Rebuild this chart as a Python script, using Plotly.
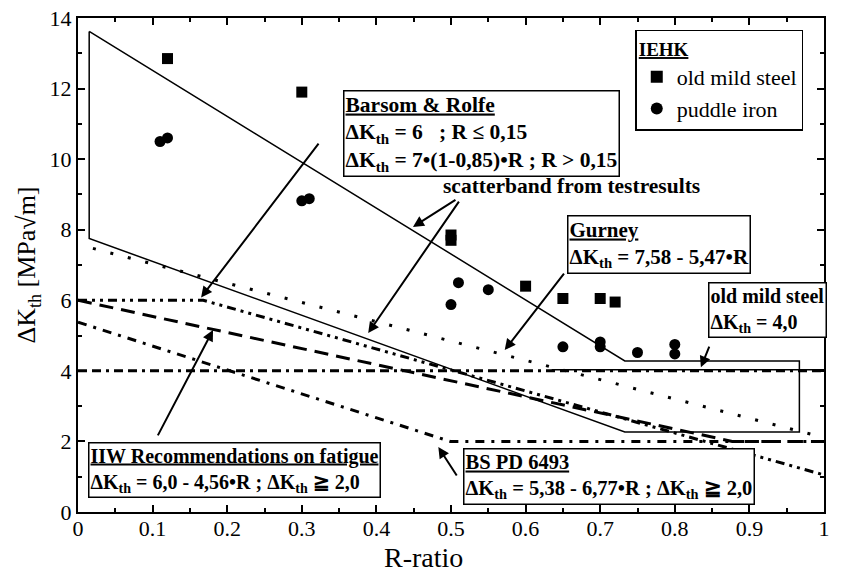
import plotly.graph_objects as go

# IEHK test results
steel_R = [0.12, 0.30, 0.50, 0.50, 0.60, 0.65, 0.70, 0.72]
steel_dK = [12.85, 11.9, 7.85, 7.7, 6.4, 6.05, 6.05, 5.95]
iron_R = [0.11, 0.12, 0.30, 0.31, 0.50, 0.51, 0.55, 0.65, 0.70, 0.70, 0.75, 0.80, 0.80]
iron_dK = [10.5, 10.6, 8.82, 8.88, 5.88, 6.5, 6.3, 4.68, 4.68, 4.82, 4.52, 4.48, 4.75]

# scatterband from test results (closed outline)
band_R = [0.015, 0.733, 0.967, 0.967, 0.733, 0.015, 0.015]
band_dK = [13.62, 4.28, 4.28, 2.27, 2.27, 7.75, 13.62]

# threshold curves (breakpoints)
gurney_R = [0.02, 1.0]
gurney_dK = [7.47, 2.11]
barsom_R = [0.0, 0.168, 1.0]
barsom_dK = [6.0, 6.0, 1.05]
iiw_R = [0.0, 0.877, 1.0]
iiw_dK = [6.0, 2.0, 2.0]
bspd_R = [0.0, 0.499, 1.0]
bspd_dK = [5.38, 2.0, 2.0]
oms_R = [0.0, 1.0]
oms_dK = [4.0, 4.0]
oms_solid_R = [0.635, 1.0]
oms_solid_dK = [4.03, 4.03]

x_ticks = [0, 0.1, 0.2, 0.3, 0.4, 0.5, 0.6, 0.7, 0.8, 0.9, 1]
x_ticklabels = ["0", "0.1", "0.2", "0.3", "0.4", "0.5", "0.6", "0.7", "0.8", "0.9", "1"]
y_ticks = [0, 2, 4, 6, 8, 10, 12, 14]

SERIF = "Liberation Serif"

fig = go.Figure()

def line(xs, ys, dash, width=3):
    fig.add_trace(go.Scatter(x=xs, y=ys, mode="lines", showlegend=False,
                             hoverinfo="skip",
                             line=dict(color="black", width=width, dash=dash)))

line(band_R, band_dK, "solid", 1.5)
line(gurney_R, gurney_dK, "3px,15px", 3)
line(barsom_R, barsom_dK, "9px,5px,3px,5px,3px,5px", 3)
line(iiw_R, iiw_dK, "14px,8px", 3)
line(bspd_R, bspd_dK, "9px,7px,3px,7px", 3)
line(oms_R, oms_dK, "9px,5px,9px,5px,3px,5px", 3)
line(oms_solid_R, oms_solid_dK, "solid", 1.5)

fig.add_trace(go.Scatter(x=steel_R, y=steel_dK, mode="markers", name="old mild steel",
                         marker=dict(symbol="square", size=11, color="black")))
fig.add_trace(go.Scatter(x=iron_R, y=iron_dK, mode="markers", name="puddle iron",
                         marker=dict(symbol="circle", size=11, color="black")))

DK = "ΔK<sub>th</sub>"


def box(x, y, text, size):
    fig.add_annotation(x=x, y=y, text=text, showarrow=False, xref="x", yref="y",
                       xanchor="left", yanchor="top", align="left",
                       bordercolor="black", borderwidth=1.5, borderpad=1,
                       bgcolor="white", font=dict(family=SERIF, size=size, color="black"))


box(0.355, 11.96,
    f"<b><u>Barsom &amp; Rolfe</u><br>{DK} = 6   ; R ≤ 0,15<br>"
    f"{DK} = 7•(1-0,85)•R ; R > 0,15</b>", 21.5)
box(0.655, 8.41, f"<b><u>Gurney</u><br>{DK} = 7,58 - 5,47•R</b>", 21)
box(0.845, 6.52, f"<b>old mild steel<br>{DK} = 4,0</b>", 20)
box(0.013, 1.98,
    f"<b><u>IIW Recommendations on fatigue</u><br>"
    f"{DK} = 6,0 - 4,56•R ; {DK} ≧ 2,0</b>", 20)
box(0.516, 1.81,
    f"<b><u>BS PD 6493</u><br>{DK} = 5,38 - 6,77•R ; {DK} ≧ 2,0</b>", 20.5)

fig.add_annotation(x=0.661, y=9.24, showarrow=False, xref="x", yref="y",
                   text="<b>scatterband from testresults</b>",
                   font=dict(family=SERIF, size=21.5, color="black"))

# x-axis title
fig.add_annotation(x=0.4625, y=-0.092, xref="paper", yref="paper", showarrow=False,
                   text="R-ratio", xanchor="center", yanchor="middle",
                   font=dict(family=SERIF, size=28, color="black"))

# arrows: (tail_x, tail_y, head_x, head_y)
arrows = [
    (0.324, 10.48, 0.165, 6.08),
    (0.508, 8.87, 0.449, 8.08),
    (0.512, 8.84, 0.389, 5.07),
    (0.653, 6.80, 0.572, 4.59),
    (0.847, 4.73, 0.835, 4.10),
    (0.106, 2.13, 0.181, 5.16),
    (0.509, 0.99, 0.483, 1.84),
]
for tx, ty, hx, hy in arrows:
    fig.add_annotation(x=hx, y=hy, ax=tx, ay=ty, xref="x", yref="y",
                       axref="x", ayref="y", text="", showarrow=True,
                       arrowhead=2, arrowsize=1.1, arrowwidth=2, arrowcolor="black")

axis_common = dict(showline=True, linecolor="black", linewidth=2, mirror="ticks",
                   ticks="inside", ticklen=7, tickwidth=1.5, tickcolor="black",
                   showgrid=False, zeroline=False, automargin=False,
                   tickfont=dict(family=SERIF, size=22, color="black"))

fig.update_xaxes(range=[0, 1], tickvals=x_ticks, ticktext=x_ticklabels,
                 ticklabelstandoff=-4,
                 minor=dict(dtick=0.05, ticks="inside", ticklen=4, tickcolor="black"),
                 **axis_common)
fig.update_yaxes(range=[0, 14], tickvals=y_ticks,
                 minor=dict(dtick=1, ticks="inside", ticklen=4, tickcolor="black"),
                 title=dict(text="ΔK<sub>th</sub> [MPa√m]",
                            font=dict(family=SERIF, size=26, color="black"),
                            standoff=6),
                 **axis_common)

fig.update_layout(
    width=843, height=579,
    margin=dict(l=78, r=19, t=18, b=67),
    paper_bgcolor="white", plot_bgcolor="white",
    font=dict(family=SERIF, color="black"),
    legend=dict(x=0.747, y=0.976, xanchor="left", yanchor="top",
                bgcolor="white", bordercolor="black", borderwidth=1.5,
                font=dict(family=SERIF, size=22, color="black"),
                title=dict(text="<b><u>IEHK</u></b>", font=dict(family=SERIF, size=19)),
                itemsizing="constant", tracegroupgap=0),
)

fig.write_html("out.html")
